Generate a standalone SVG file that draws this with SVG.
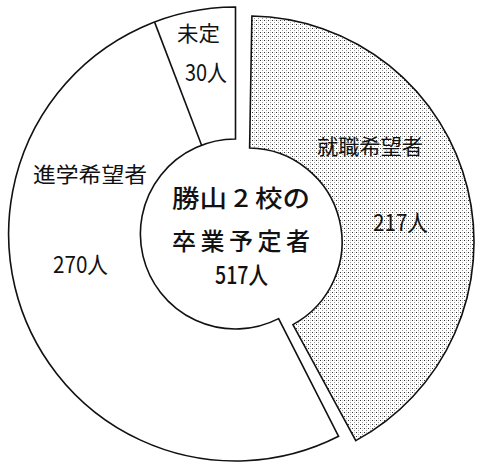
<svg xmlns="http://www.w3.org/2000/svg" width="477" height="463" viewBox="0 0 477 463">
<style>
.seg{stroke:#111;stroke-width:1.6;stroke-linejoin:miter}
.t{font-family:"Noto Sans CJK JP","Noto Sans CJK SC",sans-serif;fill:#111}
.lbl{font-size:21px}
.num{font-size:23px}
.ctr{font-size:24px;font-weight:500}
</style>
<defs>
<pattern id="dots" width="4" height="4" patternUnits="userSpaceOnUse">
<rect width="4" height="4" fill="#fff"/>
<rect x="0" y="0" width="1" height="1" fill="#333"/>
<rect x="2" y="2" width="1" height="1" fill="#999"/>
<rect x="2" y="0" width="1" height="1" fill="#ccc"/>
</pattern>
</defs>
<g id="connectors"></g>
<g id="slice-shingaku">
<path class="seg" fill="#fff" d="M235.5 7 L235.5 139 A95 95 0 1 0 278.6 318.6 L338.6 436.3 A227 227 0 1 1 235.5 7 Z"/>
<line class="seg" x1="201.6" y1="145.3" x2="154.5" y2="21.9"/>
<text class="t lbl" x="33" y="182" textLength="114" lengthAdjust="spacingAndGlyphs">進学希望者</text>
<text class="t num" x="53" y="273" textLength="55" lengthAdjust="spacingAndGlyphs">270人</text>
</g>
<g id="slice-mitei">
<text class="t lbl" x="177" y="41" textLength="43" lengthAdjust="spacingAndGlyphs">未定</text>
<text class="t num" x="185" y="81" textLength="42" lengthAdjust="spacingAndGlyphs">30人</text>
</g>
<g id="slice-shushoku">
<path class="seg" fill="url(#dots)" d="M251.9 16 A226 226 0 0 1 355.8 440.6 L292.9 324.6 A94 94 0 0 0 249.6 148 Z"/>
<text class="t lbl" x="317" y="154" textLength="106" lengthAdjust="spacingAndGlyphs">就職希望者</text>
<text class="t num" x="373" y="231" textLength="55" lengthAdjust="spacingAndGlyphs">217人</text>
</g>
<g id="center">
<text class="t ctr" x="172" y="207" textLength="138" lengthAdjust="spacingAndGlyphs">勝山 2 校の</text>
<text class="t ctr" x="172" y="250" textLength="138" lengthAdjust="spacing">卒業予定者</text>
<text class="t ctr" x="215" y="284" textLength="53" lengthAdjust="spacingAndGlyphs" font-size="26">517人</text>
</g>
</svg>
